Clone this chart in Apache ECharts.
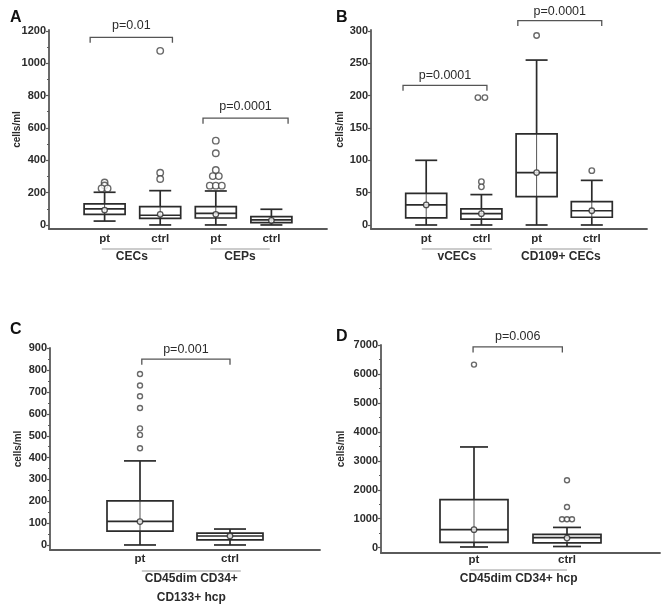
<!DOCTYPE html>
<html><head><meta charset="utf-8">
<script src="https://cdn.jsdelivr.net/npm/echarts@6/dist/echarts.min.js"></script>
<style>html,body{margin:0;padding:0;background:#fff}#c{width:671px;height:613px}</style>
</head><body><div id="c"></div>
<script>
// ---------------- DATA ----------------
// Panel A
const catsA = ['', 'pt', 'ctrl', 'pt', 'ctrl', ''];
const groupsA = ['CECs', 'CEPs'];
const boxesA = [[24, 65, 100, 130, 202], [0, 41, 60, 113, 212], [0, 43, 72, 113, 210], [0, 14, 32, 51, 97]]; // min,Q1,median,Q3,max
const meansA = [92, 66, 66, 28];
const outliersA = [[262, 244, 226, 226], [1076, 323, 284], [521, 443, 340, 302, 302, 243, 243, 243], []];
const pValuesA = ['p=0.01', 'p=0.0001'];
const yTicksA = [0, 200, 400, 600, 800, 1000, 1200];

// Panel B
const catsB = ['', 'pt', 'ctrl', 'pt', 'ctrl', ''];
const groupsB = ['vCECs', 'CD109+ CECs'];
const boxesB = [[0, 11, 31, 49, 100], [0, 9, 17.5, 25, 47], [0, 44, 81, 141, 255], [0, 12, 22, 36, 69]];
const meansB = [31, 17.5, 81, 22];
const outliersB = [[], [197, 197, 67, 59], [293], [84]];
const pValuesB = ['p=0.0001', 'p=0.0001'];
const yTicksB = [0, 50, 100, 150, 200, 250, 300];

// Panel C
const catsC = ['', 'pt', 'ctrl', ''];
const groupsC = ['CD45dim CD34+\nCD133+ hcp'];
const boxesC = [[0, 63, 108, 202, 385], [0, 23, 41, 54, 73]];
const meansC = [107, 41];
const outliersC = [[783, 730, 681, 627, 534, 504, 443], []];
const pValuesC = ['p=0.001'];
const yTicksC = [0, 100, 200, 300, 400, 500, 600, 700, 800, 900];

// Panel D
const catsD = ['', 'pt', 'ctrl', ''];
const groupsD = ['CD45dim CD34+ hcp'];
const boxesD = [[23, 185, 623, 1661, 3483], [40, 165, 350, 460, 700]];
const meansD = [623, 330];
const outliersD = [[6332], [2330, 1407, 980, 980, 980]];
const pValuesD = ['p=0.006'];
const yTicksD = [0, 1000, 2000, 3000, 4000, 5000, 6000, 7000];

// ---------------- LAYOUT / STYLE ----------------
const FONT = '"Liberation Sans", Arial, Helvetica, sans-serif';
const INK = '#2b2b2b';
const AXIS = '#5a5a5a';

const panels = [
  { letter: 'A', cats: catsA, groups: groupsA, boxes: boxesA, means: meansA, outliers: outliersA, p: pValuesA, ticks: yTicksA,
    grid: { left: 49, top: 30, width: 278, height: 199 }, yMin: -25, yMax: 1205, minor: true, nameGap: 27,
    boxW: 41, capW: 22, outSize: 6.5, outGap: 6, labelMargin: 4,
    groupSpan: [[0.95, 2.03], [2.9, 3.97]], groupLineDy: 20, groupTextDy: 28,
    brackets: [{ from: 0.74, to: 2.22, y: 1160, textDy: 12 }, { from: 2.77, to: 4.3, y: 660, textDy: 12 }],
    title: { left: 5, top: 5 } },
  { letter: 'B', cats: catsB, groups: groupsB, boxes: boxesB, means: meansB, outliers: outliersB, p: pValuesB, ticks: yTicksB,
    grid: { left: 371, top: 30, width: 276, height: 199 }, yMin: -6.2, yMax: 301.5, minor: false, nameGap: 26,
    boxW: 41, capW: 22, outSize: 5.5, outGap: 7, labelMargin: 4,
    groupSpan: [[0.92, 2.19], [2.88, 4.0]], groupLineDy: 20, groupTextDy: 28,
    brackets: [{ from: 0.58, to: 2.10, y: 216, textDy: 10 }, { from: 2.66, to: 4.18, y: 316, textDy: 9 }],
    title: { left: 331, top: 5 } },
  { letter: 'C', cats: catsC, groups: groupsC, boxes: boxesC, means: meansC, outliers: outliersC, p: pValuesC, ticks: yTicksC,
    grid: { left: 50, top: 348, width: 270, height: 202 }, yMin: -23, yMax: 902, minor: true, nameGap: 27,
    boxW: 66, capW: 32, outSize: 5, outGap: 5, labelMargin: 3,
    groupSpan: [[1.02, 2.12]], groupLineDy: 21, groupTextDy: 29,
    brackets: [{ from: 1.02, to: 2.0, y: 851, textDy: 10 }],
    title: { left: 5, top: 317 } },
  { letter: 'D', cats: catsD, groups: groupsD, boxes: boxesD, means: meansD, outliers: outliersD, p: pValuesD, ticks: yTicksD,
    grid: { left: 381, top: 345, width: 279, height: 208 }, yMin: -185, yMax: 7010, minor: true, nameGap: 35,
    boxW: 68, capW: 28, outSize: 5, outGap: 5, labelMargin: 1,
    groupSpan: [[0.96, 2.0]], groupLineDy: 17, groupTextDy: 25.5,
    brackets: [{ from: 0.99, to: 1.95, y: 6943, textDy: 10 }],
    title: { left: 331, top: 324 } }
];

const grid = [], xAxis = [], yAxis = [], series = [], title = [];

function xAt(api, v, yv) {
  const p0 = api.coord([0, yv]);
  const p1 = api.coord([1, yv]);
  return [p0[0] + v * (p1[0] - p0[0]), p0[1]];
}

panels.forEach((P, gi) => {
  grid.push(Object.assign({ containLabel: false }, P.grid));
  title.push({ text: P.letter, left: P.title.left, top: P.title.top,
    textStyle: { fontSize: 16, fontWeight: 'bold', color: '#111', fontFamily: FONT } });

  xAxis.push({
    gridIndex: gi, type: 'category', data: P.cats, boundaryGap: false,
    axisLine: { onZero: false, lineStyle: { color: AXIS, width: 1.8 } },
    axisTick: { show: false },
    axisLabel: { interval: 0, margin: P.labelMargin, fontSize: 11.5, fontWeight: 'bold', color: INK, fontFamily: FONT },
    splitLine: { show: false }
  });
  const mids = [];
  for (let i = 0; i < P.ticks.length - 1; i++) mids.push((P.ticks[i] + P.ticks[i + 1]) / 2);
  yAxis.push({
    gridIndex: gi, type: 'value', min: P.yMin, max: P.yMax, position: 'left',
    name: 'cells/ml', nameLocation: 'middle', nameGap: P.nameGap, nameRotate: 90, nameMoveOverlap: false,
    nameTextStyle: { fontSize: 10, fontWeight: 'bold', color: INK, fontFamily: FONT },
    axisLine: { show: true, onZero: false, lineStyle: { color: AXIS, width: 1.8 } },
    axisTick: { show: true, length: 3, customValues: P.ticks, lineStyle: { color: AXIS, width: 1.2 } },
    axisLabel: { customValues: P.ticks, formatter: v => String(v), margin: 3, fontSize: 11, fontWeight: 'bold', color: INK, fontFamily: FONT },
    splitLine: { show: false }
  });
  yAxis.push({
    gridIndex: gi, type: 'value', min: P.yMin, max: P.yMax, position: 'left',
    axisLine: { show: false },
    axisTick: { show: P.minor, length: 2, customValues: P.minor ? mids : [], lineStyle: { color: AXIS, width: 1 } },
    axisLabel: { show: false }, splitLine: { show: false }
  });
  const yi = gi * 2;

  // boxes
  series.push({
    type: 'custom', xAxisIndex: gi, yAxisIndex: yi, z: 3,
    data: P.boxes.map((b, i) => [i + 1].concat(b)),
    encode: { x: 0, y: [1, 2, 3, 4, 5] },
    renderItem: (params, api) => {
      const x = api.value(0);
      const lo = api.coord([x, api.value(1)]);
      const q1 = api.coord([x, api.value(2)]);
      const md = api.coord([x, api.value(3)]);
      const q3 = api.coord([x, api.value(4)]);
      const hi = api.coord([x, api.value(5)]);
      const cx = lo[0], hw = P.boxW / 2, cw = P.capW / 2;
      const st = { stroke: INK, lineWidth: 1.7 };
      return { type: 'group', children: [
        { type: 'line', shape: { x1: cx, y1: q3[1], x2: cx, y2: q1[1] }, style: { stroke: '#555', lineWidth: 1 } },
        { type: 'line', shape: { x1: cx, y1: hi[1], x2: cx, y2: q3[1] }, style: st },
        { type: 'line', shape: { x1: cx, y1: q1[1], x2: cx, y2: lo[1] }, style: st },
        { type: 'line', shape: { x1: cx - cw, y1: hi[1], x2: cx + cw, y2: hi[1] }, style: st },
        { type: 'line', shape: { x1: cx - cw, y1: lo[1], x2: cx + cw, y2: lo[1] }, style: st },
        { type: 'rect', shape: { x: cx - hw, y: q3[1], width: 2 * hw, height: q1[1] - q3[1] }, style: { fill: 'none', stroke: INK, lineWidth: 1.7 } },
        { type: 'line', shape: { x1: cx - hw, y1: md[1], x2: cx + hw, y2: md[1] }, style: st }
      ] };
    }
  });

  // means
  series.push({
    type: 'scatter', xAxisIndex: gi, yAxisIndex: yi, z: 5, symbol: 'circle', symbolSize: 5.5,
    itemStyle: { color: '#fff', borderColor: INK, borderWidth: 1.3 },
    data: P.means.map((m, i) => [i + 1, m])
  });

  // outliers (identical values in one category are spread side by side)
  const outData = [];
  P.outliers.forEach((list, i) => {
    const counts = {};
    list.forEach(v => { counts[v] = (counts[v] || 0) + 1; });
    const seen = {};
    list.forEach(v => {
      const n = counts[v], k = seen[v] || 0; seen[v] = k + 1;
      outData.push({ value: [i + 1, v], symbolOffset: [(k - (n - 1) / 2) * P.outGap, 0] });
    });
  });
  series.push({
    type: 'scatter', xAxisIndex: gi, yAxisIndex: yi, z: 5, symbol: 'circle', symbolSize: P.outSize,
    itemStyle: { color: '#fff', borderColor: '#444', borderWidth: 1.4 },
    data: outData
  });

  // group lines + labels under the axis
  series.push({
    type: 'custom', xAxisIndex: gi, yAxisIndex: yi, z: 4, clip: false,
    data: P.groups.map((g, i) => [2 * i + 1, P.yMin]),
    encode: { x: 0, y: 1 },
    renderItem: (params, api) => {
      const i = params.dataIndex;
      const span = P.groupSpan[i];
      const a = xAt(api, span[0], P.yMin), b = xAt(api, span[1], P.yMin);
      const y0 = a[1];
      return { type: 'group', children: [
        { type: 'line', shape: { x1: a[0], y1: y0 + P.groupLineDy, x2: b[0], y2: y0 + P.groupLineDy }, style: { stroke: '#999', lineWidth: 1.1 } },
        { type: 'text', x: (a[0] + b[0]) / 2, y: y0 + P.groupTextDy - 9.5,
          style: { text: P.groups[i], fill: INK, font: 'bold 12px ' + FONT, align: 'center', verticalAlign: 'top', lineHeight: 19 } }
      ] };
    }
  });

  // significance brackets
  series.push({
    type: 'custom', xAxisIndex: gi, yAxisIndex: yi, z: 4, clip: false,
    data: P.p.map((p, i) => [2 * i + 1, P.brackets[i].y]),
    encode: { x: 0, y: 1 },
    renderItem: (params, api) => {
      const i = params.dataIndex, br = P.brackets[i];
      const a = xAt(api, br.from, br.y), b = xAt(api, br.to, br.y);
      const y = a[1];
      return { type: 'group', children: [
        { type: 'polyline', shape: { points: [[a[0], y + 5.5], [a[0], y], [b[0], y], [b[0], y + 5.5]] }, style: { stroke: '#555', lineWidth: 1.3, fill: 'none' } },
        { type: 'text', x: (a[0] + b[0]) / 2, y: y - br.textDy,
          style: { text: P.p[i], fill: INK, font: '12.5px ' + FONT, align: 'center', verticalAlign: 'middle' } }
      ] };
    }
  });
});

const chart = echarts.init(document.getElementById('c'), null, { renderer: 'canvas' });
chart.setOption({ backgroundColor: '#fff', animation: false, title, grid, xAxis, yAxis, series });
</script></body></html>
